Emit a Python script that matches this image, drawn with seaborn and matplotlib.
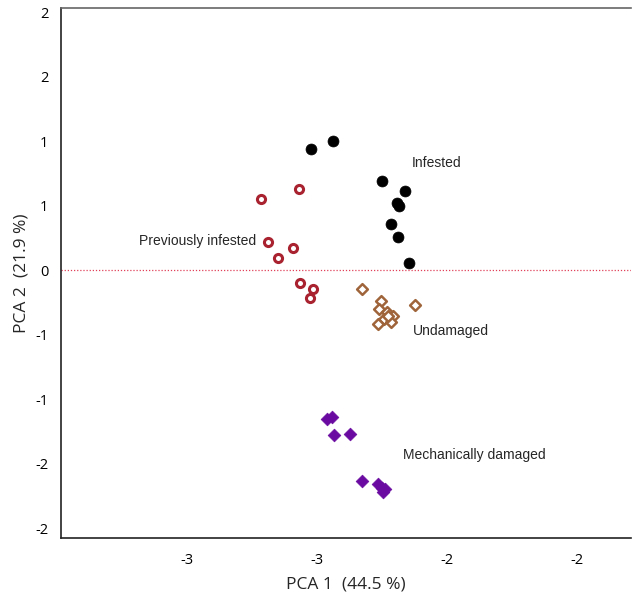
import pandas as pd
import numpy as np
import matplotlib
matplotlib.use("Agg")
import matplotlib.pyplot as plt
import seaborn as sns

# PCA scores
infested_x = [-2.772, -2.689, -2.499, -2.411, -2.444, -2.433, -2.467, -2.437, -2.397]
infested_y = [0.940, 1.005, 0.692, 0.612, 0.524, 0.498, 0.359, 0.256, 0.054]

prev_x = [-2.964, -2.818, -2.936, -2.841, -2.899, -2.814, -2.765, -2.778]
prev_y = [0.555, 0.630, 0.222, 0.171, 0.093, -0.101, -0.145, -0.217]

undam_x = [-2.576, -2.502, -2.513, -2.479, -2.456, -2.492, -2.467, -2.514, -2.372, -2.476]
undam_y = [-0.147, -0.236, -0.302, -0.326, -0.354, -0.380, -0.401, -0.418, -0.271, -0.358]

mech_x = [-2.712, -2.692, -2.684, -2.622, -2.576, -2.516, -2.500, -2.488, -2.497]
mech_y = [-1.155, -1.140, -1.279, -1.267, -1.631, -1.657, -1.690, -1.698, -1.721]

groups = ["Infested", "Previously infested", "Undamaged", "Mechanically damaged"]

x_ticks = [-3.25, -2.75, -2.25, -1.75]
x_ticklabels = ["-3", "-3", "-2", "-2"]
y_ticks = [2, 1.5, 1, 0.5, 0, -0.5, -1, -1.5, -2]
y_ticklabels = ["2", "2", "1", "1", "0", "-1", "-1", "-2", "-2"]

df = pd.concat([
    pd.DataFrame({"PC1": infested_x, "PC2": infested_y, "Group": groups[0]}),
    pd.DataFrame({"PC1": prev_x, "PC2": prev_y, "Group": groups[1]}),
    pd.DataFrame({"PC1": undam_x, "PC2": undam_y, "Group": groups[2]}),
    pd.DataFrame({"PC1": mech_x, "PC2": mech_y, "Group": groups[3]}),
], ignore_index=True)

sns.set_style("white")
plt.rcParams["font.family"] = ["Open Sans", "DejaVu Sans"]

styles = {
    "Infested": dict(marker="o", s=62, color="black", edgecolor="black", linewidth=0.5),
    "Previously infested": dict(marker="o", s=34, color="white", edgecolor="#a8232f", linewidth=2.2),
    "Undamaged": dict(marker="D", s=30, color="white", edgecolor="#a0643a", linewidth=1.8),
    "Mechanically damaged": dict(marker="D", s=42, color="#6a0aa0", edgecolor="#6a0aa0", linewidth=0.5),
}

fig = plt.figure(figsize=(6.32, 5.93), dpi=100)
ax = fig.add_axes([0.0965, 0.0927, 0.9025, 0.8938])

ax.axhline(0, color="#e0405a", linestyle=(0, (1, 1.5)), linewidth=0.9, zorder=1)

for g in groups:
    sub = df[df["Group"] == g]
    sns.scatterplot(data=sub, x="PC1", y="PC2", ax=ax, zorder=3, **styles[g])

# group labels
lab_font = dict(family=["Liberation Sans", "DejaVu Sans"], fontsize=10, va="center")
ax.text(-2.384, 0.832, "Infested", ha="left", **lab_font)
ax.text(-2.983, 0.227, "Previously infested", ha="right", **lab_font)
ax.text(-2.380, -0.471, "Undamaged", ha="left", **lab_font)
ax.text(-2.419, -1.432, "Mechanically damaged", ha="left", **lab_font)

ax.set_xlim(-3.732, -1.543)
ax.set_ylim(-2.075, 2.033)
ax.set_xticks(x_ticks)
ax.set_xticklabels(x_ticklabels)
ax.set_xticks([-3.5, -3.0, -2.5, -2.0], minor=True)
ax.set_yticks(y_ticks)
ax.set_yticklabels(y_ticklabels)

ax.tick_params(axis="both", which="both", direction="out", length=4, width=1,
               color="#333333", labelsize=10.5, labelcolor="black", pad=3)
ax.tick_params(axis="x", which="major", pad=7)
ax.tick_params(axis="y", which="major", pad=5)
ax.tick_params(axis="x", which="minor", length=3)

ax.spines["right"].set_visible(False)
for sp in ["left", "bottom"]:
    ax.spines[sp].set_color("#222222")
    ax.spines[sp].set_linewidth(1.2)
ax.spines["top"].set_color("#666666")
ax.spines["top"].set_linewidth(1.2)

ax.set_xlabel("PCA 1  (44.5 %)", fontsize=12.5, labelpad=6)
ax.set_ylabel("PCA 2  (21.9 %)", fontsize=12.5, labelpad=4)
ax.grid(False)

fig.savefig("out.png", dpi=100)
